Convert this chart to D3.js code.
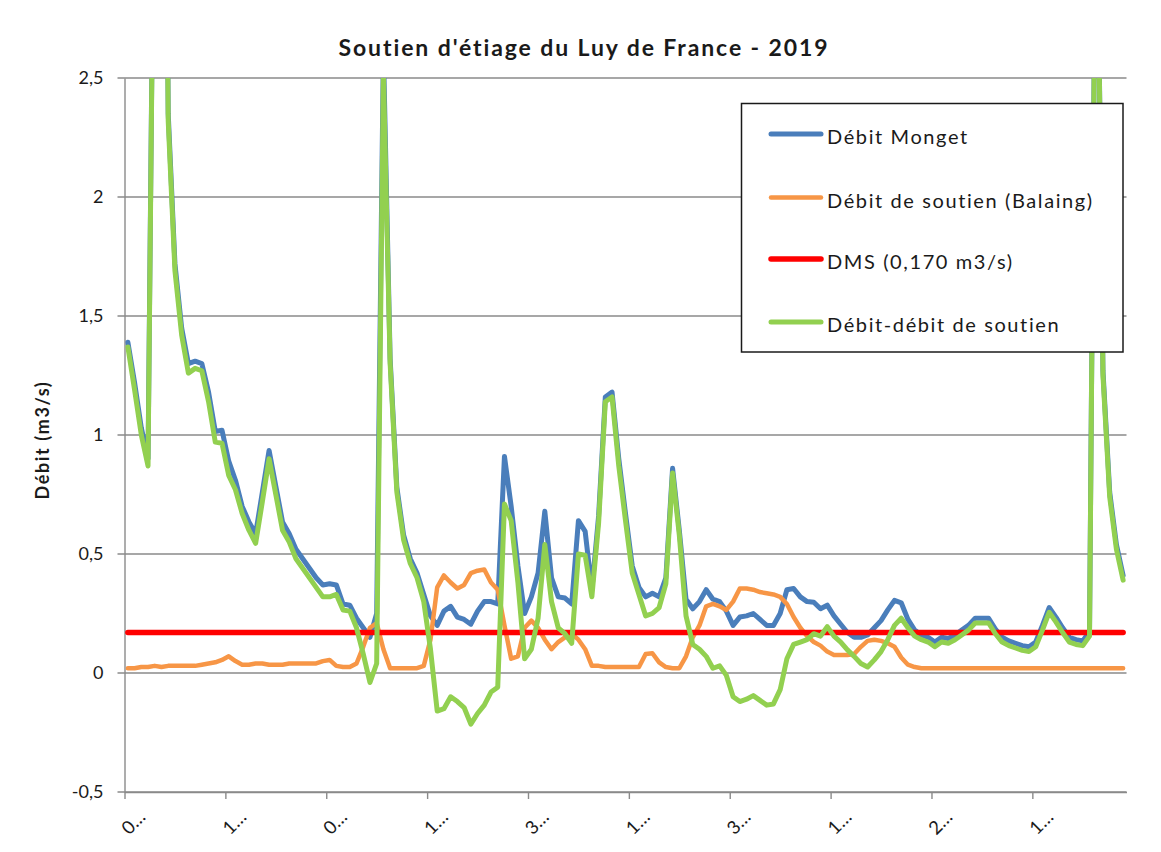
<!DOCTYPE html>
<html>
<head>
<meta charset="utf-8">
<script src="https://cdn.jsdelivr.net/npm/d3@7"></script>
<style>
  body { margin: 0; background: #ffffff; }
  svg { display: block; font-family: Lato, "Open Sans", sans-serif; }
</style>
</head>
<body>
<svg id="chart" width="1161" height="852"></svg>
<script>
// Daily flows, 1 June 2019 onwards (m3/s)
const debitMonget = [
  1.39, 1.22, 1.03, 0.90, 3.8, 6.0, 2.35, 1.72, 1.45, 1.30,
  1.31, 1.30, 1.18, 1.015, 1.02, 0.89, 0.81, 0.70, 0.635, 0.585,
  0.76, 0.935, 0.785, 0.635, 0.585, 0.52, 0.48, 0.44, 0.40, 0.37,
  0.375, 0.37, 0.29, 0.285, 0.23, 0.19, 0.15, 0.25, 2.62, 1.32,
  0.78, 0.58, 0.48, 0.42, 0.33, 0.24, 0.20, 0.26, 0.28, 0.235,
  0.225, 0.205, 0.26, 0.30, 0.30, 0.29, 0.91, 0.70, 0.45, 0.25,
  0.32, 0.42, 0.68, 0.40, 0.32, 0.315, 0.29, 0.64, 0.595, 0.35,
  0.66, 1.16, 1.18, 0.90, 0.67, 0.45, 0.36, 0.32, 0.335, 0.32,
  0.40, 0.86, 0.60, 0.31, 0.27, 0.30, 0.35, 0.31, 0.30, 0.26,
  0.20, 0.235, 0.24, 0.25, 0.225, 0.20, 0.20, 0.25, 0.35, 0.355,
  0.32, 0.30, 0.297, 0.27, 0.285, 0.24, 0.205, 0.17, 0.15, 0.15,
  0.16, 0.19, 0.22, 0.265, 0.305, 0.295, 0.225, 0.18, 0.16, 0.15,
  0.13, 0.15, 0.145, 0.16, 0.18, 0.20, 0.23, 0.23, 0.23, 0.185,
  0.15, 0.135, 0.125, 0.115, 0.11, 0.13, 0.20, 0.275, 0.235, 0.19,
  0.15, 0.14, 0.135, 0.175, 3.62, 1.27, 0.76, 0.54, 0.41
];

const debitSoutien = [
  0.02, 0.02, 0.025, 0.025, 0.03, 0.025, 0.03, 0.03, 0.03, 0.03,
  0.03, 0.035, 0.04, 0.045, 0.055, 0.07, 0.05, 0.035, 0.035, 0.04,
  0.04, 0.035, 0.035, 0.035, 0.04, 0.04, 0.04, 0.04, 0.04, 0.05,
  0.055, 0.03, 0.025, 0.025, 0.04, 0.11, 0.19, 0.21, 0.10, 0.02,
  0.02, 0.02, 0.02, 0.02, 0.03, 0.14, 0.36, 0.41, 0.38, 0.355,
  0.37, 0.42, 0.43, 0.435, 0.38, 0.35, 0.20, 0.06, 0.07, 0.19,
  0.22, 0.19, 0.14, 0.10, 0.13, 0.15, 0.165, 0.14, 0.10, 0.03,
  0.03, 0.025, 0.025, 0.025, 0.025, 0.025, 0.025, 0.08, 0.083, 0.045,
  0.025, 0.02, 0.02, 0.07, 0.15, 0.20, 0.28, 0.29, 0.28, 0.265,
  0.30, 0.355, 0.355, 0.35, 0.34, 0.335, 0.33, 0.32, 0.29, 0.235,
  0.19, 0.155, 0.13, 0.115, 0.09, 0.076, 0.076, 0.076, 0.08, 0.11,
  0.135, 0.14, 0.135, 0.125, 0.11, 0.065, 0.035, 0.025, 0.02, 0.02,
  0.02, 0.02, 0.02, 0.02, 0.02, 0.02, 0.02, 0.02, 0.02, 0.02,
  0.02, 0.02, 0.02, 0.02, 0.02, 0.02, 0.02, 0.02, 0.02, 0.02,
  0.02, 0.02, 0.02, 0.02, 0.02, 0.02, 0.02, 0.02, 0.02
];

const debitNet = [
  1.37, 1.19, 1.00, 0.87, 3.77, 5.97, 2.32, 1.69, 1.42, 1.26,
  1.28, 1.27, 1.14, 0.97, 0.965, 0.83, 0.77, 0.67, 0.60, 0.545,
  0.72, 0.90, 0.75, 0.60, 0.55, 0.48, 0.44, 0.40, 0.36, 0.32,
  0.32, 0.33, 0.265, 0.26, 0.19, 0.08, -0.04, 0.04, 2.52, 1.30,
  0.76, 0.56, 0.46, 0.40, 0.30, 0.10, -0.16, -0.15, -0.10, -0.12,
  -0.145, -0.215, -0.17, -0.135, -0.08, -0.06, 0.71, 0.64, 0.38, 0.06,
  0.10, 0.23, 0.54, 0.30, 0.19, 0.165, 0.125, 0.50, 0.495, 0.32,
  0.63, 1.14, 1.16, 0.87, 0.64, 0.42, 0.33, 0.24, 0.25, 0.275,
  0.375, 0.84, 0.58, 0.24, 0.12, 0.10, 0.07, 0.02, 0.03, -0.01,
  -0.10, -0.12, -0.11, -0.095, -0.115, -0.135, -0.13, -0.07, 0.06, 0.12,
  0.13, 0.14, 0.165, 0.155, 0.195, 0.155, 0.13, 0.097, 0.07, 0.04,
  0.025, 0.055, 0.09, 0.14, 0.20, 0.23, 0.19, 0.155, 0.14, 0.13,
  0.11, 0.13, 0.125, 0.14, 0.16, 0.18, 0.21, 0.21, 0.21, 0.165,
  0.13, 0.115, 0.105, 0.095, 0.09, 0.11, 0.18, 0.255, 0.215, 0.17,
  0.13, 0.12, 0.115, 0.155, 3.60, 1.25, 0.74, 0.52, 0.39
];

const dmsValue = 0.170;

const seriesNames = [
  "Débit Monget",
  "Débit de soutien (Balaing)",
  "DMS (0,170 m3/s)",
  "Débit-débit de soutien"
];
const seriesColors = ["#4a7ebb", "#f79646", "#ff0000", "#92d050"];

const yTickValues = [-0.5, 0, 0.5, 1, 1.5, 2, 2.5];
const xTickLabels = ["0…", "1…", "0…", "1…", "3…", "1…", "3…", "1…", "2…", "1…"];
const labelEvery = 15;

const titleText = "Soutien d'étiage du Luy de France - 2019";
const yTitleText = "Débit (m3/s)";

// ---------------------------------------------------------------
const svg = d3.select("#chart");
const W = 1161, H = 852;
const plot = { left: 124.5, right: 1126.5, top: 78, bottom: 792 };
const n = debitMonget.length;
const font = "Lato, 'Open Sans', sans-serif";
const ink = "#1a1a1a";
const axisGrey = "#8a8a8a";

svg.append("rect").attr("width", W).attr("height", H).attr("fill", "#fff");

const x = d3.scaleLinear().domain([0, n]).range([plot.left, plot.right]);
const y = d3.scaleLinear().domain([-0.5, 2.5]).range([plot.bottom, plot.top]);

const fr = d3.formatLocale({ decimal: ",", thousands: " ", grouping: [3], currency: ["", " €"], minus: "-" });
const fmt = fr.format("~g");

// horizontal gridlines (with the small outer tick on the left)
svg.append("g").selectAll("line").data(yTickValues).join("line")
  .attr("x1", plot.left - 7).attr("x2", plot.right)
  .attr("y1", d => y(d)).attr("y2", d => y(d))
  .attr("stroke", axisGrey).attr("stroke-width", 1.4);

// y axis
const yAxis = svg.append("g")
  .attr("transform", `translate(${plot.left},0)`)
  .call(d3.axisLeft(y).tickValues(yTickValues).tickFormat(fmt).tickSize(0).tickPadding(21));
yAxis.select(".domain").attr("stroke", axisGrey).attr("stroke-width", 1.4);
yAxis.selectAll("text").attr("font-size", 18).attr("fill", ink).attr("font-family", font);

// x axis: a tick and a label every 15 days
const xAxis = svg.append("g")
  .attr("transform", `translate(0,${plot.bottom})`)
  .call(d3.axisBottom(x)
    .tickValues(d3.range(0, n, labelEvery))
    .tickFormat((d, i) => xTickLabels[i])
    .tickSize(7).tickSizeOuter(0));
xAxis.select(".domain").attr("stroke", axisGrey).attr("stroke-width", 1.4);
xAxis.selectAll(".tick line").attr("stroke", axisGrey).attr("stroke-width", 1.4);
xAxis.selectAll("text")
  .attr("font-size", 18.5).attr("fill", ink).attr("font-family", font)
  .attr("text-anchor", "middle")
  .attr("dominant-baseline", "central")
  .attr("y", null).attr("dy", null)
  .attr("transform", "translate(8,30) rotate(-45)");

// series lines, clipped to the plot area
svg.append("clipPath").attr("id", "plotClip")
  .append("rect")
  .attr("x", plot.left - 4).attr("y", plot.top)
  .attr("width", plot.right - plot.left + 8).attr("height", plot.bottom - plot.top);

const line = d3.line()
  .x((d, i) => x(i + 0.5))
  .y(d => y(d));

const dmsSeries = debitMonget.map(() => dmsValue);
const allSeries = [debitMonget, debitSoutien, dmsSeries, debitNet];
const widths = [5, 4.5, 5.5, 5];

svg.append("g").attr("clip-path", "url(#plotClip)")
  .selectAll("path").data(allSeries).join("path")
  .attr("d", line)
  .attr("fill", "none")
  .attr("stroke", (d, i) => seriesColors[i])
  .attr("stroke-width", (d, i) => widths[i])
  .attr("stroke-linejoin", "round")
  .attr("stroke-linecap", "round");

// title
svg.append("text")
  .attr("x", 584).attr("y", 47)
  .attr("text-anchor", "middle").attr("dominant-baseline", "central")
  .attr("font-size", 23).attr("font-weight", "bold").attr("fill", ink)
  .attr("letter-spacing", 1.9)
  .text(titleText);

// y axis title
svg.append("text")
  .attr("transform", "translate(42,440) rotate(-90)")
  .attr("text-anchor", "middle").attr("dominant-baseline", "central")
  .attr("font-size", 18).attr("font-weight", "bold").attr("fill", ink)
  .attr("letter-spacing", 1.6)
  .text(yTitleText);

// legend
const legend = svg.append("g");
legend.append("rect")
  .attr("x", 741.5).attr("y", 103.5).attr("width", 381.5).attr("height", 248.5)
  .attr("fill", "#fff").attr("stroke", ink).attr("stroke-width", 1.5);
const rowsY = [134, 197.5, 259, 322];
const rows = legend.selectAll("g.row").data(seriesNames).join("g")
  .attr("class", "row")
  .attr("transform", (d, i) => `translate(0,${rowsY[i]})`);
rows.append("line")
  .attr("x1", 771).attr("x2", 821)
  .attr("stroke", (d, i) => seriesColors[i])
  .attr("stroke-width", (d, i) => widths[i])
  .attr("stroke-linecap", "round");
rows.append("text")
  .attr("x", 827).attr("y", 2)
  .attr("dominant-baseline", "central")
  .attr("font-size", 20).attr("fill", ink)
  .attr("letter-spacing", 1.6)
  .text(d => d);
</script>
</body>
</html>
